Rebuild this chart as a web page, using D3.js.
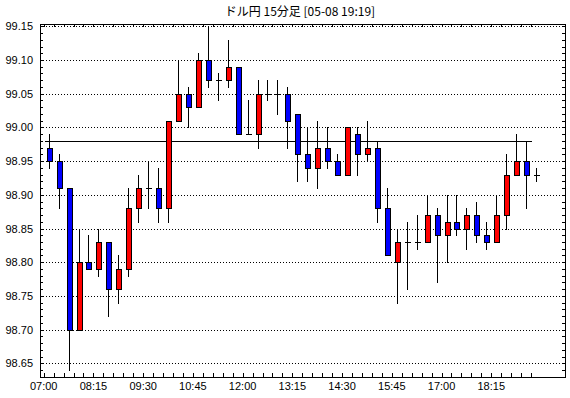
<!DOCTYPE html>
<html>
<head>
<meta charset="utf-8">
<script src="https://cdn.jsdelivr.net/npm/d3@7"></script>
<style>
  body { margin: 0; background: #fff; }
  svg { display: block; }
  text { font-family: "Liberation Sans", Arial, sans-serif; fill: #000; }
</style>
</head>
<body>
<svg id="chart" width="570" height="398"></svg>
<script>
// 15 minute candles, 07:00 .. 19:15
var opens  = [98.97, 98.95, 98.91, 98.70, 98.80, 98.79, 98.83, 98.76, 98.79, 98.88,
              98.91, 98.91, 98.88, 99.01, 99.05, 99.03, 99.10, 99.07, 99.07, 99.09,
              98.99, 98.99, 99.05, 99.05, 99.05, 99.02, 98.96, 98.94, 98.97, 98.95,
              98.93, 98.99, 98.96, 98.97, 98.88, 98.80, 98.83, 98.83, 98.83, 98.87,
              98.84, 98.86, 98.85, 98.87, 98.84, 98.83, 98.87, 98.93, 98.95, 98.93];
var highs  = [98.99, 98.96, 98.91, 98.85, 98.84, 98.85, 98.83, 98.81, 98.91, 98.93,
              98.95, 98.94, 99.01, 99.10, 99.06, 99.11, 99.15, 99.08, 99.13, 99.09,
              99.04, 99.07, 99.07, 99.07, 99.06, 99.02, 99.00, 99.01, 99.00, 98.96,
              99.00, 99.00, 99.01, 98.98, 98.91, 98.85, 98.86, 98.87, 98.90, 98.88,
              98.90, 98.90, 98.88, 98.89, 98.86, 98.90, 98.96, 98.99, 98.98, 98.94];
var lows   = [98.94, 98.88, 98.64, 98.70, 98.79, 98.78, 98.72, 98.74, 98.78, 98.86,
              98.88, 98.86, 98.86, 99.01, 99.00, 99.03, 99.06, 99.04, 99.06, 98.99,
              98.99, 98.97, 99.04, 99.02, 98.97, 98.92, 98.92, 98.91, 98.94, 98.93,
              98.93, 98.93, 98.95, 98.86, 98.81, 98.74, 98.76, 98.82, 98.83, 98.77,
              98.80, 98.84, 98.82, 98.83, 98.82, 98.83, 98.85, 98.93, 98.88, 98.92];
var closes = [98.95, 98.91, 98.70, 98.80, 98.79, 98.83, 98.76, 98.79, 98.88, 98.91,
              98.91, 98.88, 99.01, 99.05, 99.03, 99.10, 99.07, 99.07, 99.09, 98.99,
              98.99, 99.05, 99.05, 99.05, 99.01, 98.96, 98.94, 98.97, 98.95, 98.93,
              99.00, 98.96, 98.97, 98.88, 98.81, 98.83, 98.83, 98.83, 98.87, 98.84,
              98.86, 98.85, 98.87, 98.84, 98.83, 98.87, 98.93, 98.95, 98.93, 98.93];
var xLabels = ['07:00', '08:15', '09:30', '10:45', '12:00', '13:15', '14:30', '15:45', '17:00', '18:15'];
var yLabels = [98.65, 98.70, 98.75, 98.80, 98.85, 98.90, 98.95, 99.00, 99.05, 99.10, 99.15];
var refLine = 98.98;
var title = 'ドル円 15分足 [05-08 19:19]';

var svg = d3.select('#chart');
var pLeft = 40, pRight = 565, pTop = 24, pBottom = 377;
var n = opens.length;

var x = d3.scaleLinear().domain([0, n]).range([43.7, 541]);
var y = d3.scaleLinear().domain([98.6297, 99.1534]).range([pBottom, pTop]);

var px = v => Math.round(v) + 0.5;

// title
svg.append('text')
  .attr('x', 300).attr('y', 16)
  .attr('text-anchor', 'middle')
  .style('font-family', '"Noto Sans CJK JP", sans-serif')
  .style('font-size', '12px')
  .text(title);

var g = svg.append('g').attr('shape-rendering', 'crispEdges');

// dotted grid
g.selectAll('.grid').data(yLabels).enter()
  .append('line')
  .attr('x1', pLeft).attr('x2', pRight)
  .attr('y1', d => px(y(d))).attr('y2', d => px(y(d)))
  .attr('stroke', '#000')
  .attr('stroke-dasharray', '1,2');

// minor ticks every 0.01 on left and right axis
var minor = d3.range(98.63, 99.155, 0.01).map(d => Math.round(d * 100) / 100);
g.selectAll('.ml').data(minor).enter()
  .append('line')
  .attr('x1', pLeft).attr('x2', pLeft + 3)
  .attr('y1', d => px(y(d))).attr('y2', d => px(y(d)))
  .attr('stroke', '#000');
g.selectAll('.mr').data(minor).enter()
  .append('line')
  .attr('x1', pRight - 3).attr('x2', pRight)
  .attr('y1', d => px(y(d))).attr('y2', d => px(y(d)))
  .attr('stroke', '#000');

// top and bottom ticks, one per candle
var slots = d3.range(n);
g.selectAll('.tt').data(slots).enter()
  .append('line')
  .attr('x1', d => px(x(d))).attr('x2', d => px(x(d)))
  .attr('y1', pTop).attr('y2', pTop + 3)
  .attr('stroke', '#000');
g.selectAll('.tb').data(slots).enter()
  .append('line')
  .attr('x1', d => px(x(d))).attr('x2', d => px(x(d)))
  .attr('y1', pBottom - 4).attr('y2', pBottom)
  .attr('stroke', '#000');

// frame
g.append('rect')
  .attr('x', pLeft + 0.5).attr('y', pTop + 0.5)
  .attr('width', pRight - pLeft).attr('height', pBottom - pTop)
  .attr('fill', 'none').attr('stroke', '#000');

// reference line
g.append('line')
  .attr('x1', px(x(0))).attr('x2', px(x(n - 1)))
  .attr('y1', px(y(refLine))).attr('y2', px(y(refLine)))
  .attr('stroke', '#000');

// candles
var candles = g.selectAll('.candle').data(slots).enter()
  .append('g').attr('class', 'candle');

candles.append('line')
  .attr('x1', i => px(x(i + 0.5))).attr('x2', i => px(x(i + 0.5)))
  .attr('y1', i => Math.round(y(highs[i]))).attr('y2', i => Math.round(y(lows[i])) + 1)
  .attr('stroke', '#000');

candles.filter(i => opens[i] !== closes[i])
  .append('rect')
  .attr('x', i => Math.round(x(i + 0.5)) - 1.5)
  .attr('width', 5)
  .attr('y', i => Math.round(y(Math.max(opens[i], closes[i]))) + 0.5)
  .attr('height', i => Math.round(y(Math.min(opens[i], closes[i]))) - Math.round(y(Math.max(opens[i], closes[i]))))
  .attr('fill', i => closes[i] > opens[i] ? '#ff0000' : '#0000ff')
  .attr('stroke', '#000');

candles.filter(i => opens[i] === closes[i])
  .append('line')
  .attr('x1', i => Math.round(x(i + 0.5)) - 2).attr('x2', i => Math.round(x(i + 0.5)) + 4)
  .attr('y1', i => px(y(closes[i]))).attr('y2', i => px(y(closes[i])))
  .attr('stroke', '#000');

// labels
svg.selectAll('.yl').data(yLabels).enter()
  .append('text')
  .attr('x', 33).attr('y', d => y(d) + 4)
  .attr('text-anchor', 'end')
  .style('font-size', '11px')
  .text(d => d.toFixed(2));

svg.selectAll('.xl').data(xLabels).enter()
  .append('text')
  .attr('x', (d, i) => x(i * 5))
  .attr('y', 390)
  .attr('text-anchor', 'middle')
  .style('font-size', '11px')
  .text(d => d);
</script>
</body>
</html>
